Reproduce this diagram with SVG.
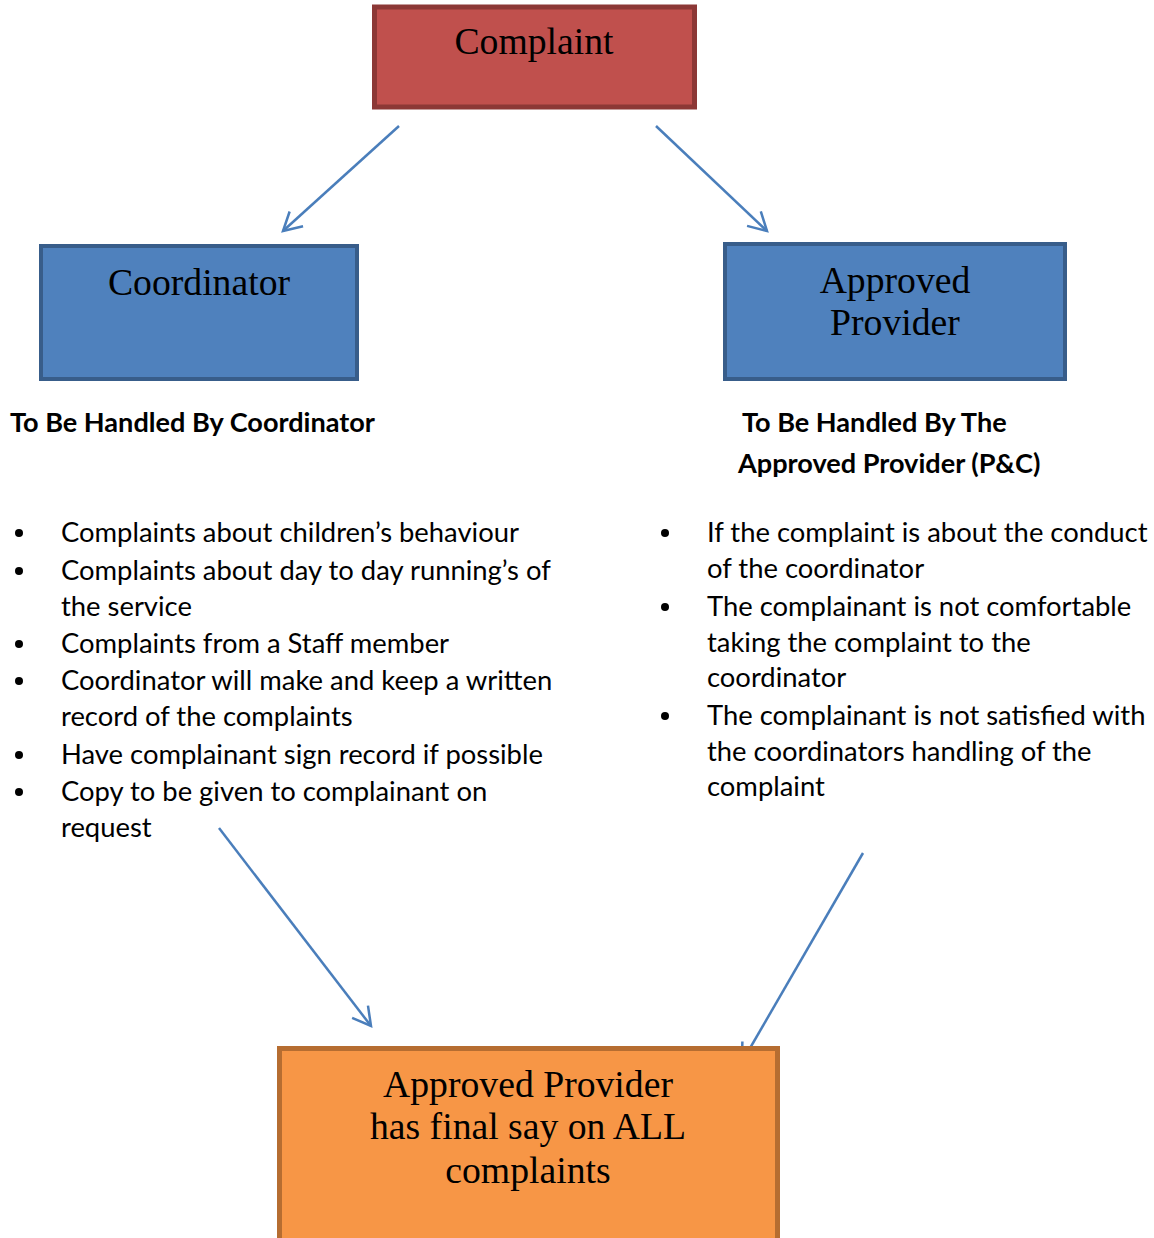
<svg xmlns="http://www.w3.org/2000/svg" width="1154" height="1238" viewBox="0 0 1154 1238">
<style>
.box{font-family:"Liberation Serif","Times New Roman",serif;font-size:37.7px;fill:#000;text-anchor:middle}
.hd{font-family:Lato,"Noto Sans",sans-serif;font-size:27.1px;font-weight:bold;fill:#000}
.tx{font-family:Lato,"Noto Sans",sans-serif;font-size:27.4px;fill:#000}
.conn{stroke:#4A7EBB;stroke-width:2.5;fill:none;marker-end:url(#arr)}
</style>
<defs>
<marker id="arr" viewBox="0 0 20 20" refX="18" refY="10" markerWidth="20" markerHeight="20" markerUnits="userSpaceOnUse" orient="auto" overflow="visible">
<polyline points="0,0 18,10 0,20" fill="none" stroke="#4A7EBB" stroke-width="2.5"/>
</marker>
</defs>
<rect width="1154" height="1238" fill="#fff"/>
<g id="connectors">
<line class="conn" x1="399" y1="126" x2="283" y2="231"/>
<line class="conn" x1="656" y1="126" x2="767" y2="231"/>
<line class="conn" x1="219" y1="828" x2="371" y2="1026"/>
<line class="conn" x1="863" y1="853" x2="742" y2="1062"/>
</g>
<g id="complaint">
<rect x="374.5" y="7" width="320" height="100" fill="#C0504D" stroke="#8C3836" stroke-width="5"/>
<text class="box" x="534" y="54">Complaint</text>
</g>
<g id="coordinator">
<rect x="41" y="246" width="316" height="133" fill="#4F81BD" stroke="#385D8A" stroke-width="4"/>
<text class="box" x="199" y="295">Coordinator</text>
</g>
<g id="approved-provider">
<rect x="725" y="244" width="340" height="135" fill="#4F81BD" stroke="#385D8A" stroke-width="4"/>
<text class="box" x="895" y="293">Approved</text>
<text class="box" x="895" y="335">Provider</text>
</g>
<g id="final">
<rect x="279.5" y="1048.5" width="498" height="200" fill="#F79646" stroke="#B66D31" stroke-width="5"/>
<text class="box" x="528" y="1097">Approved Provider</text>
<text class="box" x="528" y="1139">has final say on ALL</text>
<text class="box" x="528" y="1183">complaints</text>
</g>
<g id="coordinator-list">
<text class="hd" x="10" y="432">To Be Handled By Coordinator</text>
<g class="tx">
<circle cx="19" cy="533" r="4"/><text x="61" y="542">Complaints about children’s behaviour</text>
<circle cx="19" cy="571" r="4"/><text x="61" y="580">Complaints about day to day running’s of</text>
<text x="61" y="616">the service</text>
<circle cx="19" cy="644" r="4"/><text x="61" y="653">Complaints from a Staff member</text>
<circle cx="19" cy="681" r="4"/><text x="61" y="690">Coordinator will make and keep a written</text>
<text x="61" y="726">record of the complaints</text>
<circle cx="19" cy="755" r="4"/><text x="61" y="764">Have complainant sign record if possible</text>
<circle cx="19" cy="792" r="4"/><text x="61" y="801">Copy to be given to complainant on</text>
<text x="61" y="837">request</text>
</g>
</g>
<g id="provider-list">
<text class="hd" x="742" y="432">To Be Handled By The</text>
<text class="hd" x="738" y="473">Approved Provider (P&amp;C)</text>
<g class="tx">
<circle cx="665" cy="533" r="4"/><text x="707" y="542">If the complaint is about the conduct</text>
<text x="707" y="578">of the coordinator</text>
<circle cx="665" cy="607" r="4"/><text x="707" y="616">The complainant is not comfortable</text>
<text x="707" y="652">taking the complaint to the</text>
<text x="707" y="687">coordinator</text>
<circle cx="665" cy="716" r="4"/><text x="707" y="725">The complainant is not satisfied with</text>
<text x="707" y="761">the coordinators handling of the</text>
<text x="707" y="796">complaint</text>
</g>
</g>
</svg>
